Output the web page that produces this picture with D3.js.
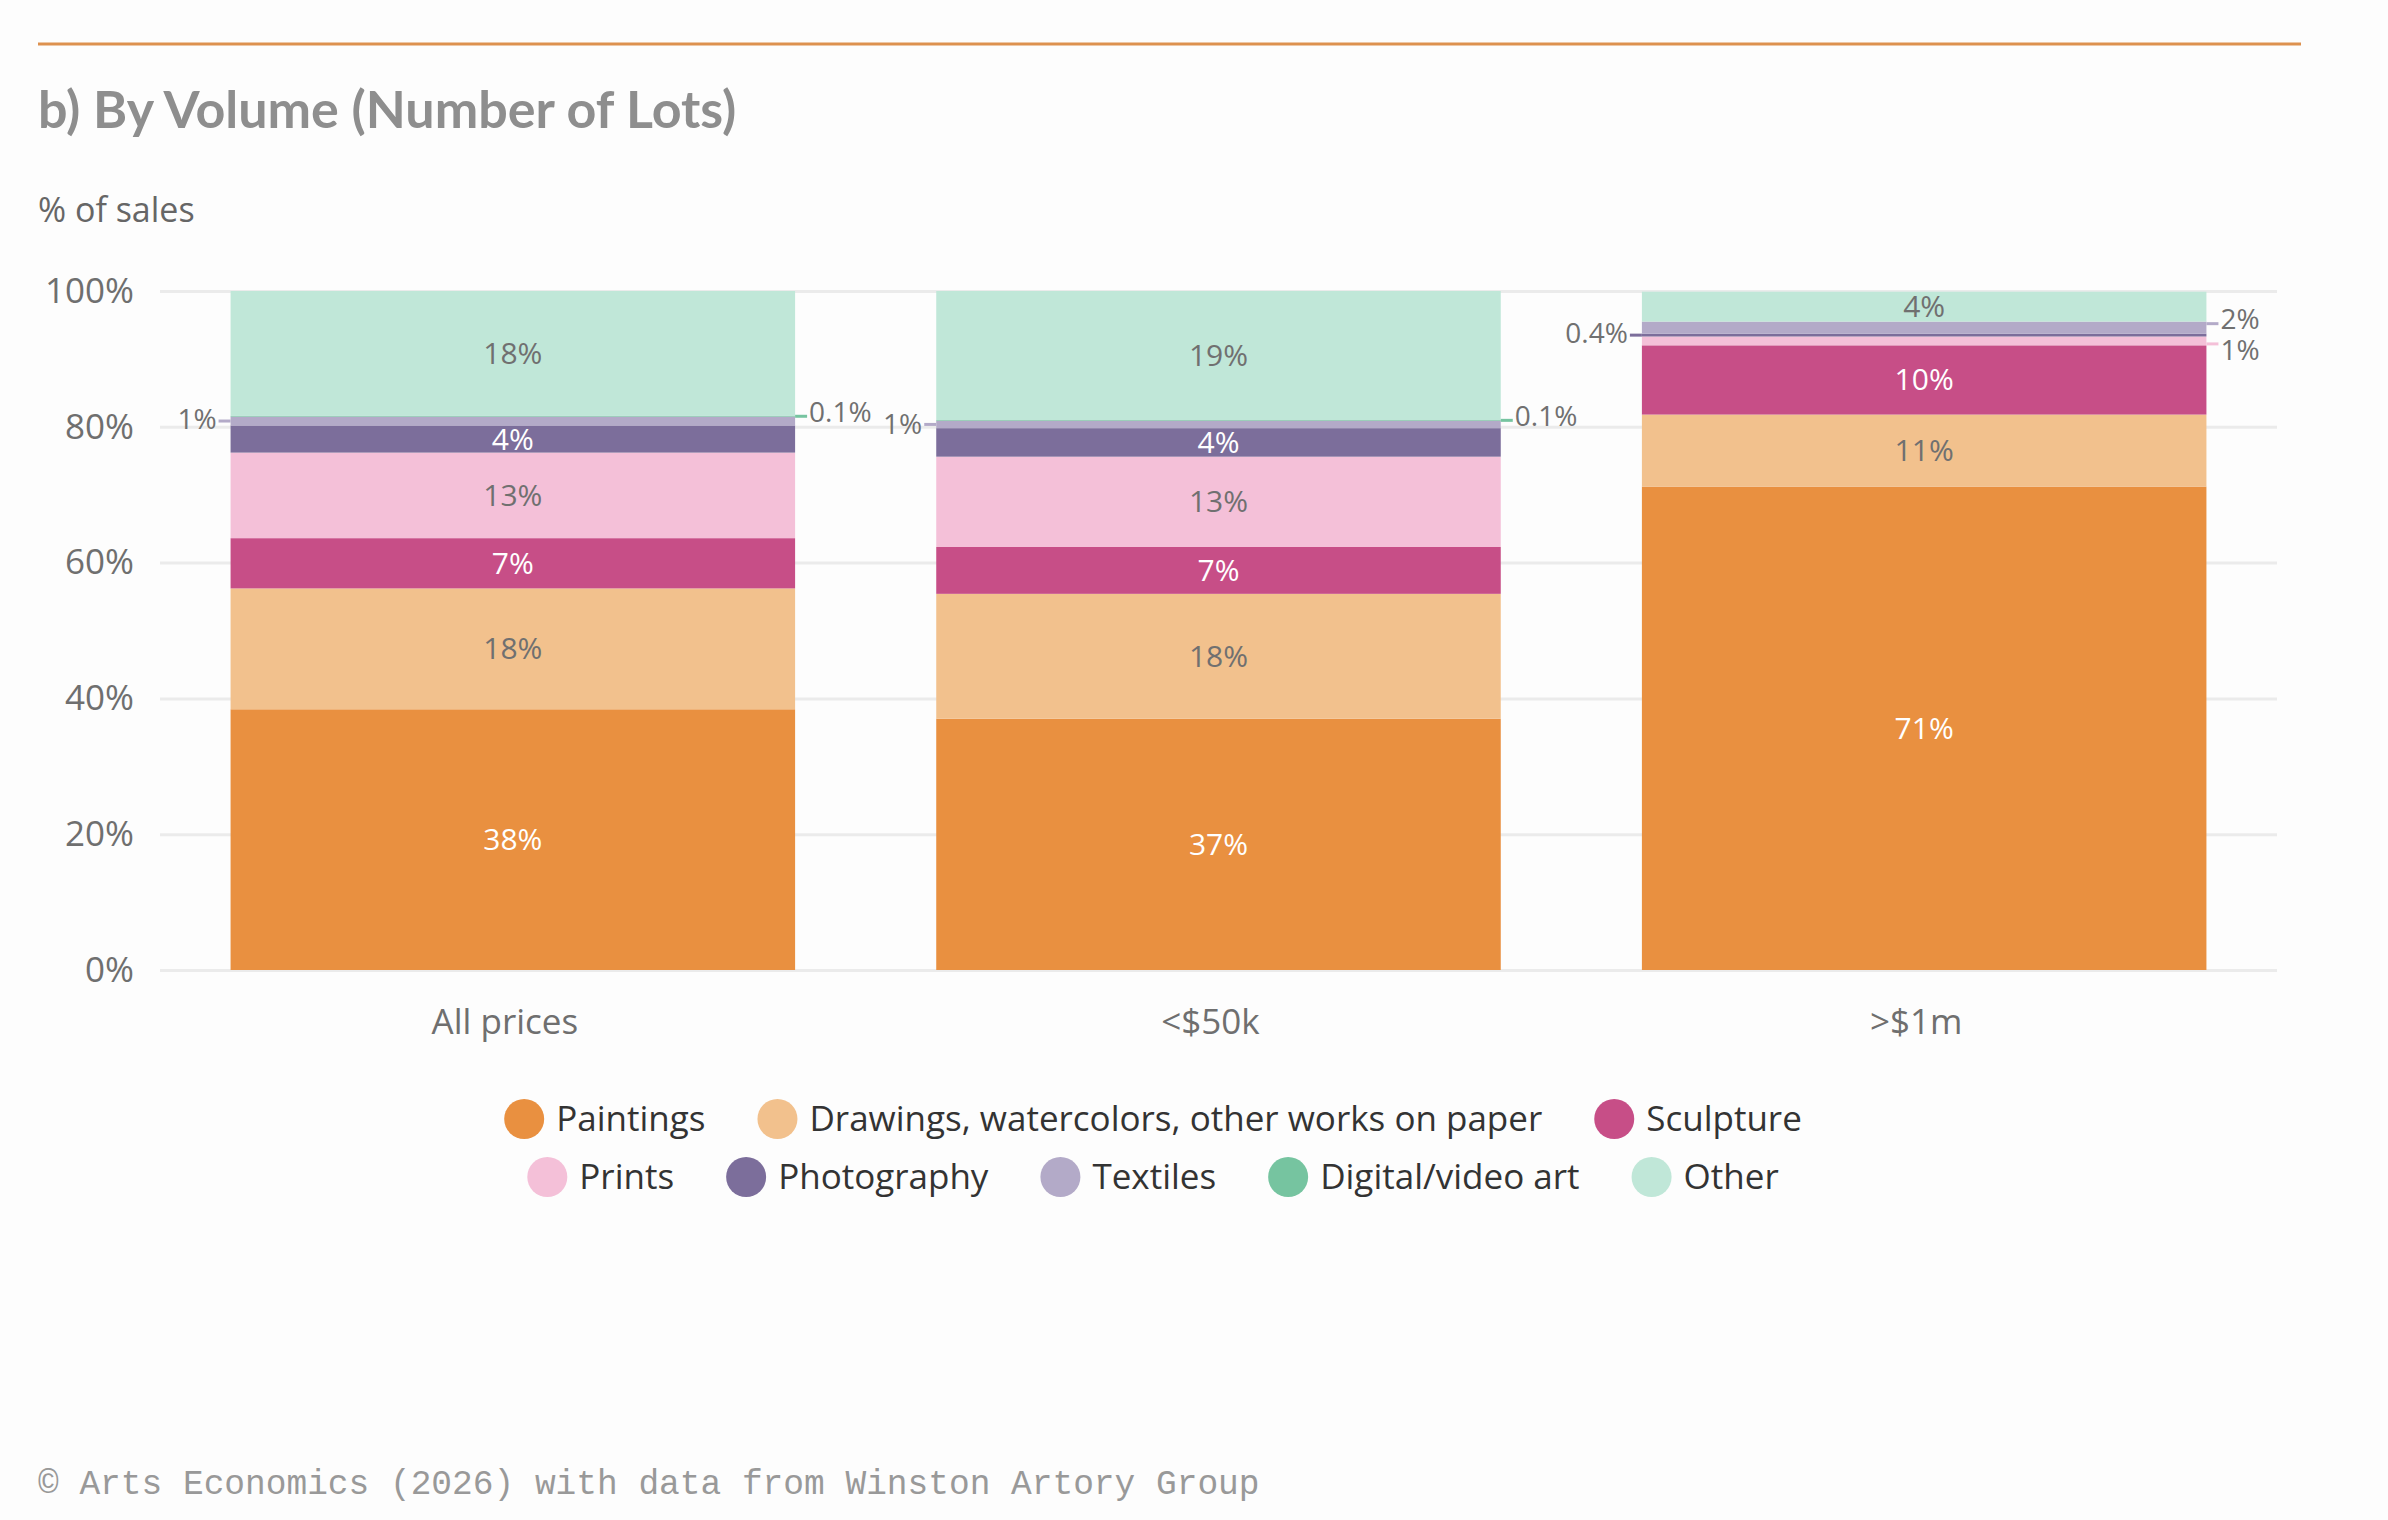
<!DOCTYPE html>
<html>
<head>
<meta charset="utf-8">
<script src="https://cdn.jsdelivr.net/npm/d3@7"></script>
<style>
  body { margin: 0; background: #fdfdfd; }
  svg { display: block; }
</style>
</head>
<body>
<script>
// data
var categories = ["All prices", "<$50k", ">$1m"];
var seriesNames = ["Paintings", "Drawings, watercolors, other works on paper", "Sculpture", "Prints",
  "Photography", "Textiles", "Digital/video art", "Other"];
var paintings = [38.4, 37.0, 71.2];
var drawings = [17.8, 18.4, 10.6];
var sculpture = [7.4, 6.9, 10.2];
var prints = [12.6, 13.3, 1.3];
var photography = [4.0, 4.2, 0.4];
var textiles = [1.3, 1.1, 1.8];
var digital = [0.1, 0.1, 0];
var other = [18.4, 19.0, 4.4];
var yTicks = [0, 20, 40, 60, 80, 100];

var colors = ["#e99040", "#f2c18d", "#c74e87", "#f4c0d8", "#7c6e9b", "#b3aac8", "#76c4a0", "#c0e7d8"];
var darkSeries = ["Paintings", "Sculpture", "Photography"];

// small segments labelled outside the bar
var outside = [
  { cat: 0, key: "Textiles", side: "left", lineDy: 0, textDy: -2 },
  { cat: 0, key: "Digital/video art", side: "right", lineDy: 0, textDy: -4 },
  { cat: 1, key: "Textiles", side: "left", lineDy: 0, textDy: 0 },
  { cat: 1, key: "Digital/video art", side: "right", lineDy: 0, textDy: -4 },
  { cat: 2, key: "Photography", side: "left", lineDy: 0, textDy: -2 },
  { cat: 2, key: "Textiles", side: "right", lineDy: -4, textDy: -8 },
  { cat: 2, key: "Prints", side: "right", lineDy: 3, textDy: 9 }
];

var allSeries = [paintings, drawings, sculpture, prints, photography, textiles, digital, other];
var rows = categories.map(function (c, i) {
  var r = { category: c };
  seriesNames.forEach(function (s, j) { r[s] = allSeries[j][i]; });
  return r;
});

var W = 2388, H = 1520;
var plotLeft = 160, plotRight = 2277, plotTop = 291, plotBottom = 970;

var svg = d3.select("body").append("svg")
  .attr("width", W)
  .attr("height", H);

// top rule
svg.append("line")
  .attr("x1", 38).attr("x2", 2301)
  .attr("y1", 44).attr("y2", 44)
  .attr("stroke", "#dd914f")
  .attr("stroke-width", 3);

svg.append("text")
  .attr("x", 38).attr("y", 128)
  .style("font-family", "Lato, sans-serif")
  .style("font-weight", 700)
  .style("font-size", "52px")
  .style("fill", "#8e8e8e")
  .text("b) By Volume (Number of Lots)");

svg.append("text")
  .attr("x", 38).attr("y", 222)
  .style("font-family", "'Open Sans', sans-serif")
  .style("font-size", "34px")
  .style("fill", "#666")
  .text("% of sales");

var x = d3.scaleBand()
  .domain(categories)
  .range([plotLeft, plotRight])
  .paddingInner(0.2)
  .paddingOuter(0.1);

var y = d3.scaleLinear()
  .domain([0, 100])
  .range([plotBottom, plotTop]);

var color = d3.scaleOrdinal().domain(seriesNames).range(colors);

// y axis + gridlines
var yAxis = svg.append("g")
  .attr("transform", "translate(" + plotLeft + ",0)")
  .call(d3.axisLeft(y).tickValues(yTicks).tickSize(-(plotRight - plotLeft)).tickPadding(26)
    .tickFormat(function (d) { return d + "%"; }));
yAxis.select(".domain").remove();
yAxis.selectAll("line").attr("stroke", "#ebebeb").attr("stroke-width", 3);
yAxis.selectAll("text")
  .style("font-family", "'Open Sans', sans-serif")
  .style("font-size", "35px")
  .style("fill", "#6f6f6f");

// x axis
var xAxis = svg.append("g")
  .attr("transform", "translate(0," + plotBottom + ")")
  .call(d3.axisBottom(x).tickSize(0));
xAxis.select(".domain").remove();
xAxis.selectAll("text")
  .attr("y", 52)
  .attr("dx", "-8")
  .attr("dy", "0.35em")
  .style("font-family", "'Open Sans', sans-serif")
  .style("font-size", "35px")
  .style("fill", "#6f6f6f");

var stacked = d3.stack().keys(seriesNames)(rows);

var layers = svg.append("g").selectAll("g")
  .data(stacked)
  .enter()
  .append("g")
  .attr("fill", function (d) { return color(d.key); });

layers.selectAll("rect")
  .data(function (d) { return d; })
  .enter()
  .append("rect")
  .attr("x", function (d) { return x(d.data.category); })
  .attr("width", x.bandwidth())
  .attr("y", function (d) { return y(d[1]); })
  .attr("height", function (d) { return y(d[0]) - y(d[1]); });

function fmt(v) {
  return v < 1 ? v.toFixed(1) + "%" : Math.round(v) + "%";
}

// labels inside the bars
var inside = [];
stacked.forEach(function (layer) {
  layer.forEach(function (d) {
    var v = d[1] - d[0];
    if (v >= 3) inside.push({ key: layer.key, d: d, v: v });
  });
});

svg.append("g").selectAll("text")
  .data(inside)
  .enter()
  .append("text")
  .attr("x", function (o) { return x(o.d.data.category) + x.bandwidth() / 2; })
  .attr("y", function (o) { return y((o.d[0] + o.d[1]) / 2); })
  .attr("dy", "0.35em")
  .attr("text-anchor", "middle")
  .style("font-family", "'Open Sans', sans-serif")
  .style("font-size", "30px")
  .style("fill", function (o) { return darkSeries.indexOf(o.key) >= 0 ? "#fff" : "#707070"; })
  .text(function (o) { return fmt(o.v); });

// labels outside with short leader lines
var outG = svg.append("g");
outside.forEach(function (o) {
  var layer = stacked.find(function (l) { return l.key === o.key; });
  var d = layer[o.cat];
  var v = d[1] - d[0];
  var cy = y((d[0] + d[1]) / 2);
  var bx = o.side === "left" ? x(categories[o.cat]) : x(categories[o.cat]) + x.bandwidth();
  var dir = o.side === "left" ? -1 : 1;
  outG.append("line")
    .attr("x1", bx).attr("x2", bx + dir * 12)
    .attr("y1", cy + o.lineDy).attr("y2", cy + o.lineDy)
    .attr("stroke", color(o.key))
    .attr("stroke-width", 3);
  outG.append("text")
    .attr("x", bx + dir * 14)
    .attr("y", cy + o.textDy)
    .attr("dy", "0.35em")
    .attr("text-anchor", o.side === "left" ? "end" : "start")
    .style("font-family", "'Open Sans', sans-serif")
    .style("font-size", "28px")
    .style("fill", "#707070")
    .text(fmt(v));
});

// legend
var legendRows = [seriesNames.slice(0, 3), seriesNames.slice(3)];
var legendY = [1119, 1177];
var legendCx = 1153;
var r = 20, gapText = 12, gapItem = 52;

legendRows.forEach(function (names, ri) {
  var g = svg.append("g");
  var items = g.selectAll("g")
    .data(names)
    .enter()
    .append("g");
  items.append("circle")
    .attr("r", r)
    .attr("cx", r)
    .attr("cy", 0)
    .attr("fill", function (d) { return color(d); });
  items.append("text")
    .attr("x", 2 * r + gapText)
    .attr("dy", "0.35em")
    .style("font-family", "'Open Sans', sans-serif")
    .style("font-size", "35px")
    .style("fill", "#333")
    .text(function (d) { return d; });
  var pos = 0;
  items.each(function () {
    var w = 2 * r + gapText + this.querySelector("text").getComputedTextLength();
    d3.select(this).attr("transform", "translate(" + pos + ",0)");
    pos += w + gapItem;
  });
  var total = pos - gapItem;
  g.attr("transform", "translate(" + (legendCx - total / 2) + "," + legendY[ri] + ")");
});

svg.append("text")
  .attr("x", 38).attr("y", 1494)
  .style("font-family", "'Liberation Mono', monospace")
  .style("font-size", "34.5px")
  .style("fill", "#999")
  .text("\u00a9 Arts Economics (2026) with data from Winston Artory Group");
</script>
</body>
</html>
